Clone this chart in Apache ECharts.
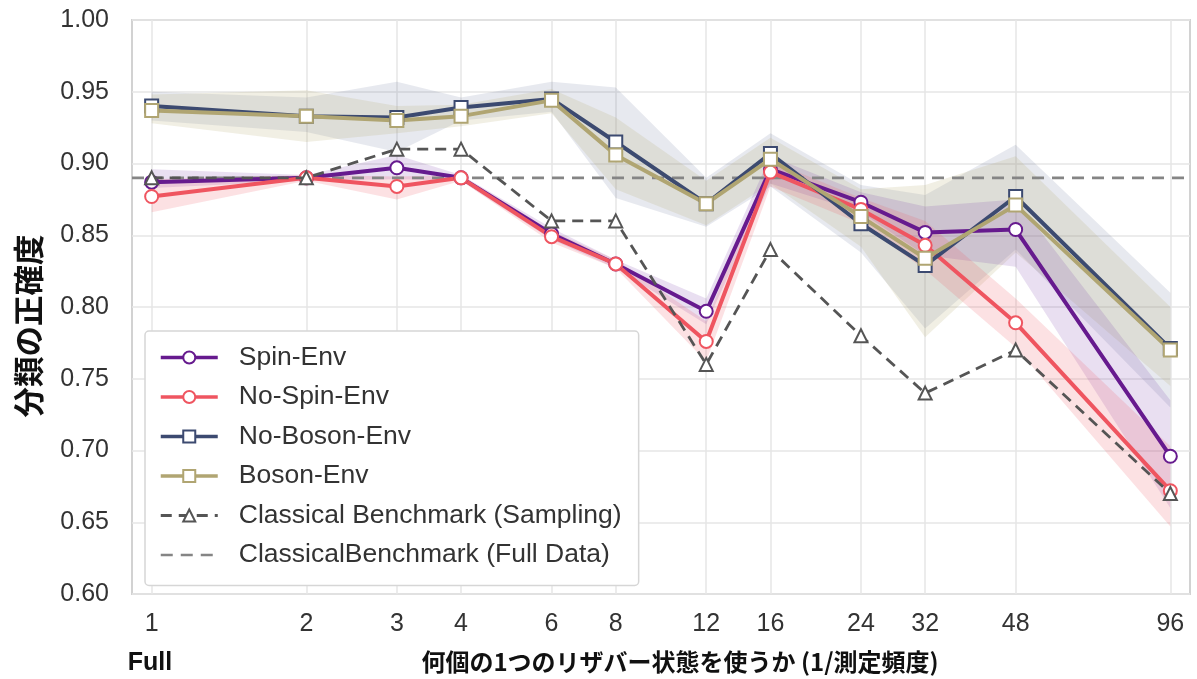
<!DOCTYPE html>
<html>
<head>
<meta charset="utf-8">
<script src="https://cdn.jsdelivr.net/npm/echarts@6/dist/echarts.min.js"></script>
<style>html,body{margin:0;padding:0;background:#fff}#c{width:1197px;height:679px}</style>
</head>
<body>
<div id="c"></div>
<script>
// ---- data ----
const xCats = [1, 2, 3, 4, 6, 8, 12, 16, 24, 32, 48, 96];

const spin     = [0.887, 0.890, 0.897, 0.890, 0.851, 0.830, 0.797, 0.896, 0.873, 0.852, 0.854, 0.696];
const spinLo   = [0.883, 0.888, 0.889, 0.888, 0.847, 0.827, 0.788, 0.886, 0.866, 0.836, 0.828, 0.660];
const spinHi   = [0.896, 0.892, 0.906, 0.892, 0.855, 0.833, 0.806, 0.905, 0.880, 0.870, 0.875, 0.735];

const noSpin   = [0.877, 0.890, 0.884, 0.890, 0.849, 0.830, 0.776, 0.894, 0.868, 0.843, 0.789, 0.672];
const noSpinLo = [0.866, 0.888, 0.875, 0.888, 0.845, 0.827, 0.762, 0.884, 0.858, 0.826, 0.772, 0.647];
const noSpinHi = [0.889, 0.892, 0.891, 0.892, 0.853, 0.833, 0.790, 0.902, 0.876, 0.860, 0.806, 0.703];

const noBoson   = [0.940, 0.933, 0.932, 0.939, 0.945, 0.915, 0.872, 0.907, 0.858, 0.829, 0.877, 0.771];
const noBosonLo = [0.930, 0.922, 0.908, 0.930, 0.936, 0.876, 0.856, 0.884, 0.838, 0.785, 0.840, 0.730];
const noBosonHi = [0.950, 0.946, 0.957, 0.946, 0.957, 0.953, 0.890, 0.921, 0.885, 0.878, 0.913, 0.810];

const boson   = [0.937, 0.933, 0.930, 0.933, 0.944, 0.906, 0.872, 0.903, 0.863, 0.834, 0.871, 0.770];
const bosonLo = [0.928, 0.915, 0.921, 0.926, 0.935, 0.882, 0.857, 0.886, 0.842, 0.779, 0.838, 0.745];
const bosonHi = [0.948, 0.951, 0.940, 0.941, 0.952, 0.932, 0.888, 0.918, 0.882, 0.885, 0.905, 0.800];

const classicalSampling = [0.890, 0.890, 0.910, 0.910, 0.860, 0.860, 0.760, 0.840, 0.780, 0.740, 0.770, 0.670];
const classicalFull = 0.89;

// ---- build ----
const lx = xCats.map(v => Math.log2(v));
const xMin = -0.127, xMax = 6.712;
const pair = arr => arr.map((v, i) => [lx[i], v]);

const C = {
  spin: '#661a8e', noSpin: '#ef5560', noBoson: '#3c4a70', boson: '#b0a572', cls: '#555555', full: '#858585'
};

function band(lo, hi, fill) {
  return {
    type: 'custom', silent: true, z: 1,
    data: [[lx[0], hi[0]]],
    renderItem: function (params, api) {
      const pts = [];
      for (let i = 0; i < lx.length; i++) pts.push(api.coord([lx[i], hi[i]]));
      for (let i = lx.length - 1; i >= 0; i--) pts.push(api.coord([lx[i], lo[i]]));
      return { type: 'polygon', shape: { points: pts }, style: { fill: fill } };
    }
  };
}

function line(name, vals, color, symbol) {
  return {
    name: name, type: 'line', data: pair(vals), z: 5,
    symbol: symbol, symbolSize: 13, showAllSymbol: true,
    lineStyle: { color: color, width: 4 },
    itemStyle: { color: color, borderColor: color, borderWidth: 2.8 },
    emphasis: { disabled: true }
  };
}

const chart = echarts.init(document.getElementById('c'), null, { renderer: 'canvas' });
const fontLatin = '"Liberation Sans", Arial, sans-serif';
const fontJP = '"Noto Sans CJK JP", sans-serif';

chart.setOption({
  animation: false,
  backgroundColor: '#ffffff',
  grid: { left: 132, right: 7, top: 20, bottom: 83, show: true, borderColor: '#d2d2d2', borderWidth: 2, backgroundColor: 'transparent' },
  xAxis: {
    type: 'value', min: xMin, max: xMax,
    axisLine: { show: false },
    axisTick: { show: false, customValues: lx },
    axisLabel: { customValues: lx, formatter: v => String(Math.round(Math.pow(2, v))), fontSize: 25, color: '#333', margin: 18, fontFamily: fontLatin },
    splitLine: { show: true, lineStyle: { color: '#e6e6e6', width: 1.5 } },
    name: '何個の1つのリザバー状態を使うか (1/測定頻度)',
    nameLocation: 'middle', nameGap: 56,
    nameTextStyle: { fontSize: 24, fontWeight: 'bold', color: '#111', fontFamily: fontJP, padding: [0, 0, 0, 38] }
  },
  yAxis: {
    type: 'value', min: 0.6, max: 1.0, interval: 0.05,
    axisLine: { show: false }, axisTick: { show: false },
    axisLabel: { formatter: v => v.toFixed(2), fontSize: 25, color: '#333', margin: 23, fontFamily: fontLatin },
    splitLine: { show: true, lineStyle: { color: '#e6e6e6', width: 1.5 } }
  },
  legend: {
    orient: 'vertical', left: 145, top: 331,
    backgroundColor: '#ffffff', borderColor: '#d6d6d6', borderWidth: 1.5, borderRadius: 4,
    padding: [13, 17, 17, 14],
    itemWidth: 57, itemHeight: 15, itemGap: 12.5,
    lineStyle: { width: 3.5 },
    textStyle: { fontSize: 26.5, color: '#333', fontFamily: fontLatin, padding: [0, 0, 0, 16] },
    data: ['Spin-Env', 'No-Spin-Env', 'No-Boson-Env', 'Boson-Env',
      { name: 'Classical Benchmark (Sampling)', lineStyle: { width: 2.8 } },
      { name: 'ClassicalBenchmark (Full Data)', itemStyle: { opacity: 0 }, lineStyle: { width: 2.6 } }]
  },
  graphic: [{
    type: 'text', x: 150, y: 663,
    style: { text: 'Full', fontSize: 25, fontWeight: 'bold', fill: '#111', fontFamily: fontLatin, align: 'center', verticalAlign: 'middle' }
  }, {
    type: 'text', x: 28, y: 326, rotation: Math.PI / 2,
    style: { text: '分類の正確度', fontSize: 30.5, fontWeight: 'bold', fill: '#111', fontFamily: fontJP, align: 'center', verticalAlign: 'middle' }
  }],
  series: [
    band(noBosonLo, noBosonHi, 'rgba(70,85,130,0.13)'),
    band(bosonLo, bosonHi, 'rgba(185,175,120,0.20)'),
    band(spinLo, spinHi, 'rgba(110,40,160,0.15)'),
    band(noSpinLo, noSpinHi, 'rgba(240,90,100,0.18)'),
    line('Spin-Env', spin, C.spin, 'emptyCircle'),
    line('No-Spin-Env', noSpin, C.noSpin, 'emptyCircle'),
    line('No-Boson-Env', noBoson, C.noBoson, 'emptyRect'),
    line('Boson-Env', boson, C.boson, 'emptyRect'),
    {
      name: 'Classical Benchmark (Sampling)', type: 'line', data: pair(classicalSampling), z: 6,
      symbol: 'emptyTriangle', symbolSize: 13, showAllSymbol: true,
      lineStyle: { color: C.cls, width: 2.8, type: [11, 7] },
      itemStyle: { color: C.cls, borderColor: C.cls, borderWidth: 2.2 },
      emphasis: { disabled: true }
    },
    {
      name: 'ClassicalBenchmark (Full Data)', type: 'line', z: 4,
      data: [[xMin, classicalFull], [xMax, classicalFull]],
      symbol: 'none',
      lineStyle: { color: C.full, width: 2.6, type: [12, 8] },
      itemStyle: { color: C.full },
      emphasis: { disabled: true }
    }
  ]
});
</script>
</body>
</html>
